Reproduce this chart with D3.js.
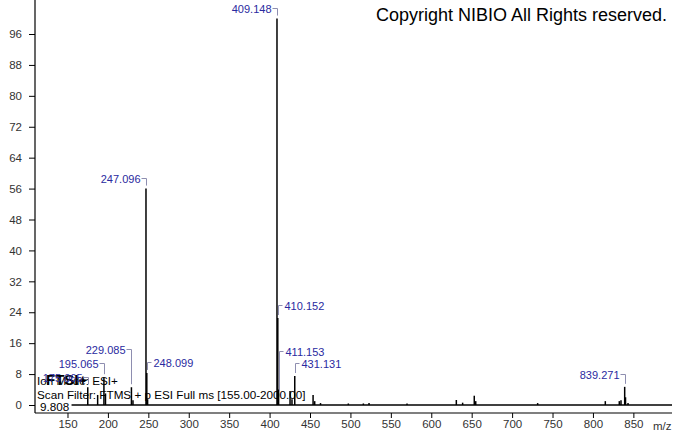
<!DOCTYPE html>
<html>
<head>
<meta charset="utf-8">
<script src="https://cdn.jsdelivr.net/npm/d3@7"></script>
<style>
  html, body { margin: 0; padding: 0; background: #fff; }
  svg { display: block; font-family: "Liberation Sans", Arial, sans-serif; }
</style>
</head>
<body>
<svg id="chart" width="673" height="433"></svg>
<script>
// ---- data ----
const peakMz = [175.065, 187.3, 195.065, 197.0, 229.085, 231.0, 247.096, 248.099, 249.1,
  409.148, 410.152, 411.153, 425.3, 427.7, 431.131, 453.8, 455.8, 463.0, 497.4, 516.0, 523.0,
  570.0, 631.0, 638.8, 653.2, 655.0, 731.6, 815.3, 832.6, 834.7, 839.271, 840.3, 843.4];
const peakIntensity = [4.6, 2.6, 7.2, 3.0, 4.6, 1.2, 56, 8.3, 1.5,
  100, 22.5, 4.0, 3.6, 1.5, 7.5, 2.6, 1.0, 0.5, 0.4, 0.4, 0.5,
  0.4, 1.3, 0.6, 2.4, 1.0, 0.5, 1.0, 1.0, 1.2, 4.7, 2.0, 0.5];
const labelText = ["409.148", "247.096", "229.085", "195.065", "175.065", "410.152", "411.153", "431.131", "248.099", "839.271"];
const labelMz = [409.148, 247.096, 229.085, 195.065, 175.065, 410.152, 411.153, 431.131, 248.099, 839.271];
const labelTip = [100, 56, 4.6, 7.2, 4.6, 22.5, 2.8, 7.5, 8.3, 4.7];
const yTicks = d3.range(0, 97, 8);
const xTicks = d3.range(150, 851, 50);
const scanRange = [155, 2000];
const infoLines = ["Ion Mode: ESI+", "Scan Filter: FTMS + p ESI Full ms [155.00-2000.00]"];
const rtText = "9.808";
const copyright = "Copyright NIBIO All Rights reserved.";

// ---- annotation layout (side, bracket level in intensity units) ----
const labelSide = ["left", "left", "left", "left", "left", "right", "right", "right", "right", "left"];
const labelLevel = [102.7, 58.7, 14.5, 10.9, 7.2, 25.9, 14.0, 10.9, 11.1, 8.0];

const svg = d3.select("#chart");
const x = d3.scaleLinear().domain([109.8, 897.8]).range([35, 672]);
const y = d3.scaleLinear().domain([0, 104.8]).range([405, 0]);
const axisY = 413;
const FONT = "Liberation Sans, Arial, sans-serif";

// y axis
const gy = svg.append("g").attr("transform", "translate(35,0)");
gy.call(d3.axisLeft(y).tickValues(d3.range(0, 105, 1)).tickSize(3).tickFormat(""))
  .call(g => g.select(".domain").remove());
gy.call(d3.axisLeft(y).tickValues(yTicks).tickSize(6).tickPadding(7).tickFormat(d3.format("d")))
  .call(g => g.select(".domain").remove());
gy.selectAll("text").attr("fill", "#333").style("font-size", "11.5px").style("font-family", FONT);
gy.selectAll("line").attr("stroke", "#000");
svg.append("line").attr("x1", 35).attr("x2", 35).attr("y1", 0).attr("y2", axisY)
  .attr("stroke", "#000").attr("stroke-width", 1.2);

// x axis
const gx = svg.append("g").attr("transform", `translate(0,${axisY})`);
gx.call(d3.axisBottom(x).tickValues(d3.range(115, 896, 5)).tickSize(3).tickFormat(""))
  .call(g => g.select(".domain").remove());
gx.call(d3.axisBottom(x).tickValues(xTicks).tickSize(5).tickPadding(2).tickFormat(d3.format("d")))
  .call(g => g.select(".domain").remove());
gx.selectAll("text").attr("fill", "#333").style("font-size", "11.5px").style("font-family", FONT);
gx.selectAll("line").attr("stroke", "#000");
svg.append("line").attr("x1", 35).attr("x2", 672).attr("y1", axisY).attr("y2", axisY)
  .attr("stroke", "#000").attr("stroke-width", 1.2);
svg.append("text").attr("x", 653).attr("y", 430).attr("fill", "#333")
  .style("font-size", "11.5px").text("m/z");

// info text
svg.append("text").attr("x", 46).attr("y", 385).attr("fill", "#000")
  .style("font-size", "15px").style("font-weight", "bold").text("FTSI+");
infoLines.forEach((t, i) => {
  svg.append("text").attr("x", 37).attr("y", 385 + i * 14).attr("fill", "#000")
    .style("font-size", "11.7px").text(t);
});
svg.append("text").attr("x", 40).attr("y", 411).attr("fill", "#000")
  .style("font-size", "11.7px").text(rtText);

// baseline
svg.append("line").attr("x1", x(scanRange[0])).attr("x2", 672)
  .attr("y1", y(0)).attr("y2", y(0)).attr("stroke", "#000").attr("stroke-width", 1.3);

// peaks
svg.append("g").selectAll("line").data(peakMz.map((m, i) => [m, peakIntensity[i]]))
  .join("line")
  .attr("x1", d => x(d[0])).attr("x2", d => x(d[0]))
  .attr("y1", y(0)).attr("y2", d => y(d[1]))
  .attr("stroke", "#000").attr("stroke-width", 1.5);

// annotations
const ann = svg.append("g");
labelText.forEach((t, i) => {
  const px = Math.round(x(labelMz[i])) + 0.5;
  const ly = Math.round(y(labelLevel[i])) + 0.5;
  const tipY = y(labelTip[i]) - 3;
  const side = labelSide[i];
  const hx = side === "left" ? px - 5 : px + 4;
  ann.append("path")
    .attr("d", `M${hx},${ly}H${px}V${tipY}`)
    .attr("fill", "none").attr("stroke", "#8e8eb0").attr("stroke-width", 1);
  ann.append("text")
    .attr("x", side === "left" ? hx - 1 : hx + 2)
    .attr("y", ly + 4)
    .attr("text-anchor", side === "left" ? "end" : "start")
    .attr("fill", "#2a2aa0").style("font-size", "11px").text(t);
});

// copyright
svg.append("text").attr("x", 376).attr("y", 21).attr("fill", "#000")
  .style("font-size", "18px").text(copyright);
</script>
</body>
</html>
